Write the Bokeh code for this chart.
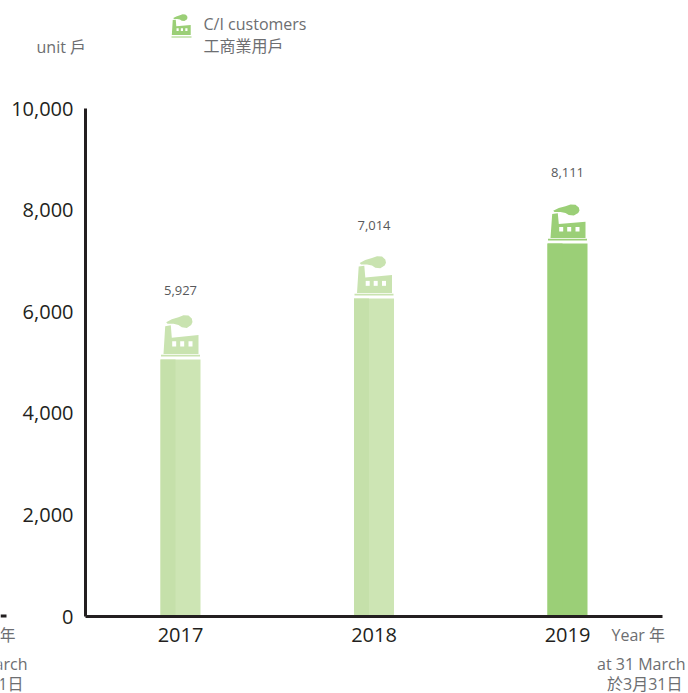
from bokeh.plotting import figure
from bokeh.models import FixedTicker, Range1d, ColumnDataSource, NumeralTickFormatter, LinearAxis
from bokeh.embed import file_html
from bokeh.resources import INLINE
from bokeh.core.properties import value

FONT = "'Open Sans', 'Noto Sans CJK TC'"

years = [2017, 2018, 2019]
totals = [5927, 7014, 8111]
total_labels = ["5,927", "7,014", "8,111"]
bar_values = [5059, 6260, 7343]
label_values = [6417, 7697, 8740]
bar_colors = ["#cde5b4", "#cde5b4", "#9bcf77"]
shade_colors = ["#c5e0aa", "#c5e0aa", "#9bcf77"]
icon_colors = ["#c9e3b0", "#c9e3b0", "#9bcf77"]
icon_scales = [1.16, 1.1, 1.0]
y_ticks = [0, 2000, 4000, 6000, 8000, 10000]

# pictogram outline, px from bar centre / px above bar top
bld_x = [-17, -15.3, -9.7, -8.7, 18, 18]
bld_h = [0, 24, 24.7, 14, 16.3, 0]
smoke_x = [-14.3, -8.7, -2, 3, 8, 11.3, 12, 10.7, 6.3, 1.3, -2, -7, -13]
smoke_h = [27.3, 30, 31.7, 33.5, 33.2, 30.5, 27.5, 25, 22.5, 23, 25, 26, 26]
win_x = [-6.3, 1.7, 10]

W, H = 688, 693
L, R, T, B = 85, 662, 108, 616
STEP = 193.5

px_x = 1 / STEP
px_y = 10000 / (B - T)
x0 = 2017 - 180 * px_x
x1 = x0 + W * px_x
y0 = -(H - B) * px_y
y1 = 10000 + T * px_y


def sx(v):
    return x0 + v * px_x


def sy(v):
    return (B - v) * px_y


p = figure(width=W, height=H, output_backend="svg", toolbar_location=None,
           x_range=Range1d(x0, x1), y_range=Range1d(y0, y1),
           x_axis_type=None, y_axis_type=None,
           min_border=0, margin=0, outline_line_color=None)
p.grid.visible = False

xaxis = LinearAxis(fixed_location=0, bounds=(sx(L), sx(R)), ticker=FixedTicker(ticks=years),
                   formatter=NumeralTickFormatter(format="0"), major_label_standoff=5)
yaxis = LinearAxis(fixed_location=sx(L), bounds=(0, 10000), ticker=FixedTicker(ticks=y_ticks),
                   formatter=NumeralTickFormatter(format="0,0"), major_label_standoff=6)
for ax in (xaxis, yaxis):
    ax.axis_line_color = "#231f20"
    ax.axis_line_width = 3
    ax.major_tick_line_color = None
    ax.minor_tick_line_color = None
    ax.major_label_text_color = "#231f20"
    ax.major_label_text_font = "Open Sans"
    ax.major_label_text_font_size = "20px"
p.add_layout(xaxis, "below")
p.add_layout(yaxis, "left")

half = 20 * px_x
p.quad(left=[y - half for y in years], right=[y + half for y in years], bottom=0, top=bar_values,
       fill_color=bar_colors, line_color=None)
p.quad(left=[y - half for y in years], right=[y - half + 15 * px_x for y in years], bottom=0, top=bar_values,
       fill_color=shade_colors, line_color=None)

# factory pictograms standing on the bars
for y, top, col, s in zip(years, bar_values, icon_colors, icon_scales):
    base = top + 5.5 * px_y
    p.patch([y + d * px_x for d in bld_x], [base + h * s * px_y for h in bld_h], fill_color=col, line_color=None)
    p.patch([y + d * px_x for d in smoke_x], [base + h * s * px_y for h in smoke_h], fill_color=col, line_color=None)
    p.quad(left=y - 19.5 * px_x, right=y + 19.5 * px_x, bottom=top + 3 * px_y, top=top + 4.7 * px_y,
           fill_color=col, line_color=None)
    p.quad(left=[y + d * px_x - 2 * px_x for d in win_x], right=[y + d * px_x + 2 * px_x for d in win_x],
           bottom=base + 6.5 * s * px_y, top=base + 11 * s * px_y, fill_color="#ffffff", line_color=None)

src = ColumnDataSource(dict(x=years, y=label_values, t=total_labels))
p.text("x", "y", text="t", source=src, text_align="center", text_baseline="middle",
       text_font=value("Open Sans"), text_font_size="13px", text_color="#58595b")


def label(x, y, text, size="16px", align="left", color="#6d6e71"):
    p.text([sx(x)], [sy(y)], text=[text], text_font=value(FONT), text_font_size=size,
           text_color=color, text_align=align, text_baseline="middle")


label(36, 46, "unit 戶")
label(203, 23, "C/I customers")
label(203, 45, "工商業用戶")
label(611, 634, "Year 年")
label(685, 663, "at 31 March", align="right")
label(682, 683, "於3月31日", align="right")
label(15, 634, "Year 年", align="right")
label(27, 663, "at 31 March", align="right")
label(23, 683, "於3月31日", align="right")


def poly(xs, ys, color):
    p.patch([sx(v) for v in xs], [sy(v) for v in ys], fill_color=color, line_color=None)


# legend pictogram
lx, ly, ks, kh = 180.5, 34.5, 0.54, 0.62
lc = "#9bcf77"
poly([lx + d * ks for d in bld_x], [ly - h * kh for h in bld_h], lc)
poly([lx + d * ks for d in smoke_x], [ly - h * kh for h in smoke_h], lc)
poly([171, 191, 191, 171], [36, 36, 37, 37], lc)
for d in win_x:
    poly([lx + (d - 2) * ks, lx + (d + 2) * ks, lx + (d + 2) * ks, lx + (d - 2) * ks],
         [ly - 6.5 * kh, ly - 6.5 * kh, ly - 11 * kh, ly - 11 * kh], "#ffffff")

# end of the neighbouring panel's axis
poly([0, 6, 6, 0], [614, 614, 617, 617], "#231f20")

open("out.html", "w").write(file_html(p, INLINE))
